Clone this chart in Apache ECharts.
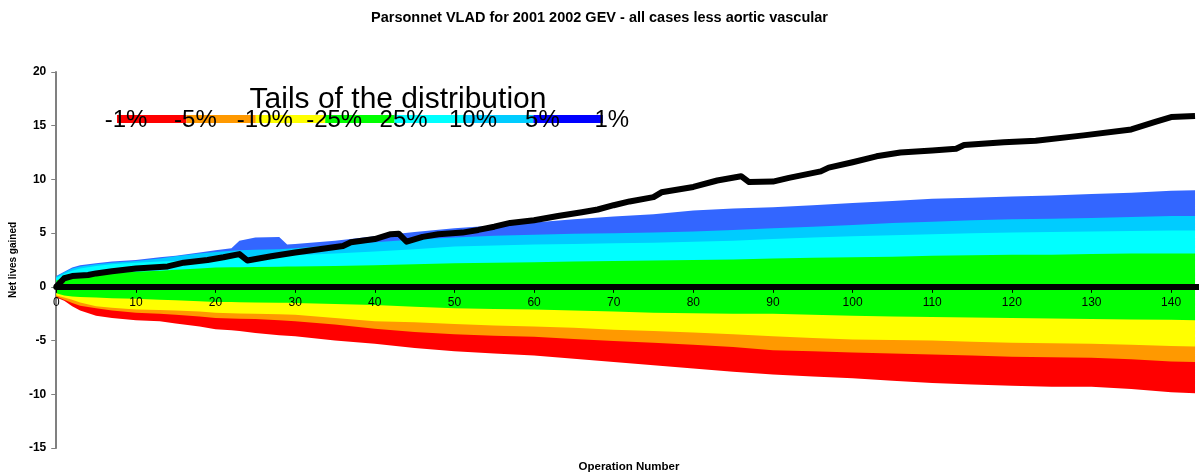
<!DOCTYPE html>
<html>
<head>
<meta charset="utf-8">
<script src="https://cdn.jsdelivr.net/npm/echarts@6/dist/echarts.min.js"></script>
<style>
html, body { margin:0; padding:0; background:#fff; }
#chart { width:1199px; height:476px; }
</style>
</head>
<body>
<div id="chart"></div>
<script type="text/javascript">
// operation numbers at which the quantile bands were read
var ops = [0,1,2,3,5,7,10,13,15,18,20,22,23,25,28,29,30,35,40,45,50,55,60,65,70,75,80,85,90,95,100,105,110,115,120,125,130,135,140,143];

// upper tails
var q1  = [1.0,1.4,1.8,2.0,2.2,2.35,2.5,2.75,2.9,3.2,3.4,3.6,4.3,4.6,4.65,3.95,4.0,4.3,4.7,5.1,5.45,5.7,6.0,6.3,6.55,6.75,7.1,7.3,7.4,7.6,7.8,8.0,8.2,8.3,8.4,8.5,8.65,8.75,8.95,9.0];
var q5  = [0.95,1.35,1.7,1.9,2.1,2.25,2.4,2.65,2.85,3.1,3.25,3.35,3.4,3.45,3.5,3.55,3.6,3.9,4.15,4.4,4.6,4.75,4.85,4.95,5.0,5.05,5.15,5.3,5.45,5.6,5.75,5.95,6.05,6.2,6.3,6.35,6.4,6.5,6.6,6.6];
var q10 = [0.85,1.2,1.5,1.7,1.95,2.1,2.25,2.35,2.4,2.55,2.65,2.7,2.75,2.8,2.85,2.9,2.95,3.1,3.3,3.5,3.75,3.85,3.95,4.0,4.05,4.1,4.2,4.3,4.45,4.6,4.7,4.8,4.9,5.0,5.05,5.1,5.15,5.2,5.25,5.25];
var q25 = [0.6,0.85,1.0,1.1,1.2,1.3,1.4,1.5,1.6,1.7,1.8,1.82,1.83,1.85,1.88,1.89,1.9,1.95,2.0,2.1,2.2,2.25,2.3,2.35,2.4,2.45,2.5,2.55,2.65,2.7,2.75,2.8,2.9,2.95,3.0,3.0,3.05,3.1,3.1,3.1];
// lower tails
var qm25 = [-0.6,-0.8,-0.9,-0.95,-1.0,-1.05,-1.1,-1.2,-1.25,-1.35,-1.4,-1.42,-1.43,-1.45,-1.48,-1.49,-1.5,-1.6,-1.7,-1.85,-2.0,-2.05,-2.1,-2.2,-2.3,-2.4,-2.45,-2.5,-2.5,-2.6,-2.7,-2.75,-2.8,-2.85,-2.9,-2.95,-3.0,-3.05,-3.07,-3.1];
var qm10 = [-0.8,-1.0,-1.2,-1.45,-1.8,-1.95,-2.1,-2.15,-2.2,-2.3,-2.4,-2.45,-2.47,-2.5,-2.55,-2.58,-2.6,-2.9,-3.2,-3.3,-3.45,-3.6,-3.7,-3.8,-4.0,-4.1,-4.25,-4.4,-4.6,-4.75,-4.9,-4.95,-5.0,-5.1,-5.2,-5.25,-5.3,-5.4,-5.5,-5.55];
var qm5  = [-0.9,-1.2,-1.5,-1.75,-2.0,-2.2,-2.4,-2.5,-2.6,-2.75,-2.9,-2.95,-2.97,-3.0,-3.1,-3.15,-3.2,-3.5,-3.9,-4.2,-4.4,-4.55,-4.65,-4.85,-5.05,-5.2,-5.4,-5.6,-5.9,-6.0,-6.1,-6.2,-6.3,-6.4,-6.5,-6.55,-6.6,-6.75,-6.95,-7.0];
var qm1  = [-1.0,-1.3,-1.8,-2.2,-2.7,-2.9,-3.1,-3.2,-3.4,-3.7,-3.95,-4.05,-4.1,-4.3,-4.5,-4.55,-4.6,-5.0,-5.3,-5.7,-6.0,-6.2,-6.4,-6.7,-7.0,-7.3,-7.6,-7.9,-8.15,-8.35,-8.5,-8.75,-8.95,-9.1,-9.2,-9.3,-9.3,-9.5,-9.8,-9.9];

// observed VLAD curve
var vladOps = [0,1,2,4,5,7,10,12,14,16,19,21,23,24,27,30,33,36,37,40,42,43,44,46,48,51,53,55,57,60,63,66,68,70,72,75,76,80,83,86,87,90,92,96,97,100,103,106,110,113,114,119,123,129,135,138,140,143];
var vlad    = [0,0.8,1.0,1.1,1.25,1.45,1.7,1.8,1.9,2.25,2.5,2.75,3.05,2.45,2.85,3.2,3.5,3.8,4.15,4.45,4.9,4.95,4.2,4.65,4.9,5.05,5.3,5.6,5.95,6.2,6.6,6.95,7.2,7.6,7.95,8.35,8.8,9.3,9.9,10.3,9.75,9.8,10.15,10.75,11.1,11.6,12.15,12.5,12.7,12.85,13.2,13.45,13.6,14.1,14.65,15.35,15.8,15.9];

var yTicks = [-15,-10,-5,0,5,10,15,20];

var legendLabels = ['-1%','-5%','-10%','-25%','25%','10%','5%','1%'];
var legendColors = ['#FF0000','#FF9900','#FFFF00','#00FF00','#00FFFF','#00CCFF','#0000FF'];

// bands are drawn from the outside in, each filled to zero
var bands = [
    {data:q1,  color:'#3366FF'},
    {data:q5,  color:'#00CCFF'},
    {data:q10, color:'#00FFFF'},
    {data:q25, color:'#00FF00'},
    {data:qm1,  color:'#FF0000'},
    {data:qm5,  color:'#FF9900'},
    {data:qm10, color:'#FFFF00'},
    {data:qm25, color:'#00FF00'}
];

function pairs(xs, ys){
    var out = [];
    for (var i = 0; i < xs.length; i++) out.push([xs[i], ys[i]]);
    return out;
}

var font = 'Liberation Sans, Arial, sans-serif';

var gridTop = 72, gridBottom = 28, plotH = 476 - gridTop - gridBottom;
var yMin = yTicks[0], yMax = yTicks[yTicks.length-1];
// the x axis sits on y = 0, not at the bottom of the grid
var zeroOffset = -plotH * (0 - yMin) / (yMax - yMin);

var series = bands.map(function(b){
    return {
        type:'line',
        data:pairs(ops, b.data),
        symbol:'none',
        silent:true,
        lineStyle:{width:0, opacity:0},
        areaStyle:{color:b.color, opacity:1},
        z:2
    };
});
series.push({
    type:'line',
    data:pairs(vladOps, vlad),
    symbol:'none',
    lineStyle:{color:'#000', width:6, join:'round'},
    z:6
});

// legend drawn by hand: labels sit over the starts of the colour bars
var graphics = [{
    type:'text', x:398, y:100,
    style:{text:'Tails of the distribution', font:'30px ' + font, fill:'#000', align:'center', verticalAlign:'middle'},
    z:20
}];
var pitch = 69.4;
legendColors.forEach(function(c, i){
    graphics.push({
        type:'rect', shape:{x:117 + i*pitch, y:115, width:pitch, height:8},
        style:{fill:c}, z:20
    });
});
legendLabels.forEach(function(t, i){
    graphics.push({
        type:'text', x:126 + i*pitch, y:120,
        style:{text:t, font:'24px ' + font, fill:'#000', align:'center', verticalAlign:'middle'},
        z:21
    });
});
graphics.push({
    type:'text', x:629, y:467,
    style:{text:'Operation Number', font:'bold 11.5px ' + font, fill:'#000', align:'center', verticalAlign:'middle'},
    z:20
});

var myChart = echarts.init(document.getElementById('chart'));
var option = {
    animation:false,
    title:{
        text:'Parsonnet VLAD for 2001 2002 GEV - all cases less aortic vascular',
        left:'center', top:5,
        textStyle:{fontFamily:font, fontSize:14.5, fontWeight:'bold', color:'#000'}
    },
    grid:{left:55, right:0, top:gridTop, bottom:gridBottom},
    xAxis:{
        type:'value', min:0, max:143.5, interval:10,
        position:'bottom', offset:zeroOffset,
        z:4,
        axisLine:{onZero:false, lineStyle:{color:'#000', width:6}},
        axisTick:{show:true, length:6, lineStyle:{color:'#000', width:1}},
        axisLabel:{margin:10, fontFamily:font, fontSize:12, color:'#000', showMaxLabel:false},
        splitLine:{show:false}
    },
    yAxis:{
        type:'value', min:yMin, max:yMax, interval:5,
        name:'Net lives gained', nameLocation:'middle', nameGap:35,
        nameTextStyle:{fontFamily:font, fontSize:10, fontWeight:'bold', color:'#000'},
        axisLine:{show:true, lineStyle:{color:'#808080', width:2}},
        axisTick:{show:true, length:5, lineStyle:{color:'#808080', width:1}},
        axisLabel:{margin:10, fontFamily:font, fontSize:12, fontWeight:'bold', color:'#000'},
        splitLine:{show:false}
    },
    graphic:graphics,
    series:series
};
myChart.setOption(option);
</script>
</body>
</html>
